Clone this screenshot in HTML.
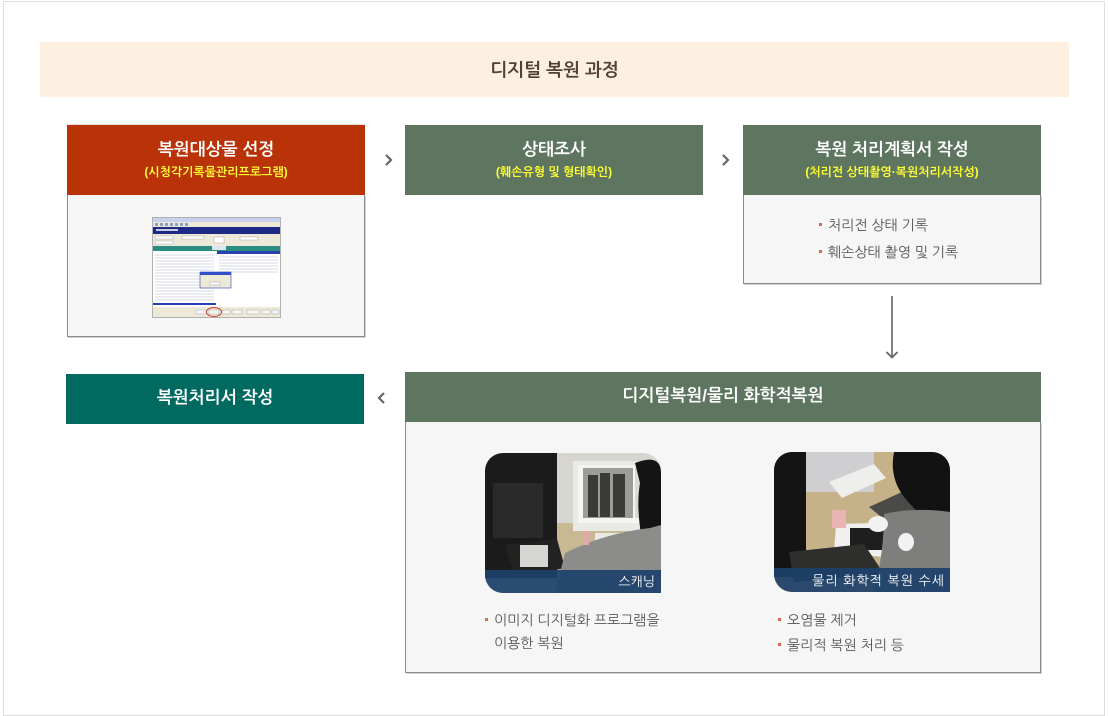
<!DOCTYPE html>
<html><head><meta charset="utf-8">
<style>
*{margin:0;padding:0;box-sizing:border-box}
html,body{width:1108px;height:716px;background:#fff;overflow:hidden}
body{position:relative;font-family:"Liberation Sans","NanumGothic","Noto Sans CJK KR",sans-serif}
.abs{position:absolute}
.outer{left:3px;top:1px;width:1102px;height:715px;border:1px solid #dedede}
.band{left:40px;top:42px;width:1029px;height:55px;background:#fef0e1}
.band span{position:absolute;left:0;right:0;top:17px;text-align:center;font-size:18px;font-weight:bold;color:#4f4232;line-height:22px}
.hd{color:#fff;text-align:center}
.hd .t{position:absolute;left:0;right:0;top:14px;font-size:17px;line-height:22px;font-weight:bold}
.hd .s{position:absolute;left:0;right:0;top:39px;font-size:12px;line-height:16px;font-weight:bold;color:#ffff33}
.red{background:#b93208}
.grn{background:#5e7660}
.teal{background:#006a61}
.body{background:#f6f6f6;border:1px solid #8c8c8c;border-top:none;box-shadow:1px 1px 0 #d0d0d0}
.li{position:absolute;font-size:14px;color:#555;line-height:18px;white-space:nowrap}
.li i{position:absolute;left:-9px;top:7px;width:3px;height:3px;background:#d9694e}
.cap{position:absolute;color:#fff;font-size:13px;line-height:16px;white-space:nowrap}
</style></head><body>
<div class="abs outer"></div>
<div class="abs band"><span>디지털 복원 과정</span></div>

<!-- Box 1 -->
<div class="abs" style="left:67px;top:124px;width:298px;height:1px;background:#e4e4e4"></div>
<div class="abs hd red" style="left:67px;top:125px;width:298px;height:70px">
  <div class="t">복원대상물 선정</div><div class="s">(시청각기록물관리프로그램)</div>
</div>
<div class="abs body" style="left:67px;top:195px;width:298px;height:142px"></div>
<svg class="abs" style="left:152px;top:217px" width="129" height="101" viewBox="0 0 129 101">
  <rect x="0.5" y="0.5" width="128" height="100" fill="#fff" stroke="#b0b0b0"/>
  <rect x="1" y="1" width="127" height="4" fill="#c8d2ee"/>
  <rect x="1" y="5" width="127" height="5" fill="#ece9d8"/>
  <g fill="#8aa0c0"><rect x="3" y="6" width="3" height="3"/><rect x="8" y="6" width="3" height="3"/><rect x="13" y="6" width="3" height="3"/><rect x="18" y="6" width="3" height="3"/><rect x="23" y="6" width="3" height="3"/><rect x="28" y="6" width="3" height="3"/><rect x="33" y="6" width="3" height="3"/></g>
  <rect x="1" y="10" width="127" height="7" fill="#1c2a86"/>
  <rect x="4" y="12" width="22" height="2" fill="#c8cce8"/>
  <rect x="1" y="17" width="127" height="12" fill="#ece9d8"/>
  <g fill="#fff" stroke="#999" stroke-width="0.4"><rect x="3" y="19" width="18" height="3"/><rect x="3" y="24" width="18" height="3"/><rect x="30" y="19" width="22" height="3"/><rect x="62" y="20" width="10" height="6"/><rect x="88" y="20" width="18" height="3"/></g>
  <rect x="1" y="29" width="127" height="5" fill="#2a8d80"/>
  <rect x="60" y="29" width="14" height="4" fill="#dfe6f2"/>
  <rect x="1" y="34" width="63" height="56" fill="#fff"/>
  <rect x="65" y="34" width="63" height="3" fill="#2a3fb0"/>
  <g stroke="#aeb4c8" stroke-width="0.6">
    <line x1="3" y1="38" x2="62" y2="38"/><line x1="3" y1="41" x2="62" y2="41"/><line x1="3" y1="44" x2="62" y2="44"/><line x1="3" y1="47" x2="62" y2="47"/><line x1="3" y1="50" x2="62" y2="50"/><line x1="3" y1="53" x2="62" y2="53"/><line x1="3" y1="56" x2="62" y2="56"/><line x1="3" y1="59" x2="62" y2="59"/><line x1="3" y1="62" x2="62" y2="62"/><line x1="3" y1="65" x2="62" y2="65"/><line x1="3" y1="68" x2="62" y2="68"/><line x1="3" y1="71" x2="62" y2="71"/><line x1="3" y1="74" x2="62" y2="74"/><line x1="3" y1="77" x2="62" y2="77"/><line x1="3" y1="80" x2="62" y2="80"/><line x1="3" y1="83" x2="62" y2="83"/>
    <line x1="67" y1="40" x2="126" y2="40"/><line x1="67" y1="43" x2="126" y2="43"/><line x1="67" y1="46" x2="126" y2="46"/><line x1="67" y1="49" x2="126" y2="49"/><line x1="67" y1="52" x2="126" y2="52"/><line x1="67" y1="55" x2="126" y2="55"/>
  </g>
  <rect x="1" y="86" width="63" height="2" fill="#2a3fb0"/>
  <rect x="48" y="55" width="31" height="16" fill="#ece9d8" stroke="#2a3fb0" stroke-width="0.6"/>
  <rect x="48" y="55" width="31" height="3" fill="#3050c8"/>
  <rect x="58" y="65" width="10" height="3" fill="#fff" stroke="#888" stroke-width="0.4"/>
  <rect x="1" y="90" width="127" height="10" fill="#ece9d8"/>
  <g fill="#f6f6f6" stroke="#999" stroke-width="0.4"><rect x="44" y="93" width="10" height="4"/><rect x="57" y="93" width="10" height="4"/><rect x="70" y="93" width="8" height="4"/><rect x="80" y="93" width="10" height="4"/><rect x="95" y="93" width="12" height="4"/><rect x="110" y="93" width="8" height="4"/><rect x="120" y="93" width="7" height="4"/></g>
  <ellipse cx="62" cy="95" rx="7.5" ry="4.5" fill="none" stroke="#cc3322" stroke-width="0.9"/>
</svg>

<!-- arrow > 1 -->
<svg class="abs" style="left:383px;top:153px" width="12" height="14"><polyline points="3,2 8,7 3,12" fill="none" stroke="#666" stroke-width="2.2"/></svg>

<!-- Box 2 -->
<div class="abs hd grn" style="left:405px;top:125px;width:298px;height:70px">
  <div class="t">상태조사</div><div class="s">(훼손유형 및 형태확인)</div>
</div>

<!-- arrow > 2 -->
<svg class="abs" style="left:720px;top:153px" width="12" height="14"><polyline points="3,2 8,7 3,12" fill="none" stroke="#666" stroke-width="2.2"/></svg>

<!-- Box 3 -->
<div class="abs hd grn" style="left:743px;top:125px;width:298px;height:70px">
  <div class="t">복원 처리계획서 작성</div><div class="s">(처리전 상태촬영·복원처리서작성)</div>
</div>
<div class="abs body" style="left:743px;top:195px;width:298px;height:89px">
  <div class="li" style="left:84px;top:21px"><i></i>처리전 상태 기록</div>
  <div class="li" style="left:84px;top:48px"><i></i>훼손상태 촬영 및 기록</div>
</div>

<!-- down arrow -->
<svg class="abs" style="left:884px;top:295px" width="16" height="66"><line x1="8" y1="1" x2="8" y2="62" stroke="#666" stroke-width="1.6"/><polyline points="2.5,57 8,62.5 13.5,57" fill="none" stroke="#666" stroke-width="1.8"/></svg>

<!-- Box 4 -->
<div class="abs hd grn" style="left:405px;top:372px;width:636px;height:50px">
  <div class="t" style="top:13px;font-size:17px;font-weight:bold">디지털복원/물리 화학적복원</div>
</div>
<div class="abs body" style="left:405px;top:422px;width:636px;height:251px">
  <div class="li" style="left:88px;top:189px"><i></i>이미지 디지털화 프로그램을</div>
  <div class="li" style="left:88px;top:212px">이용한 복원</div>
  <div class="li" style="left:381px;top:189px"><i></i>오염물 제거</div>
  <div class="li" style="left:381px;top:214px"><i></i>물리적 복원 처리 등</div>
</div>

<!-- left image -->
<svg class="abs" style="left:485px;top:453px" width="176" height="140" viewBox="0 0 176 140">
  <defs><clipPath id="c1"><path d="M18,0 H158 A18,18 0 0 1 176,18 V140 H18 A18,18 0 0 1 0,122 V18 A18,18 0 0 1 18,0 Z"/></clipPath></defs>
  <g clip-path="url(#c1)">
    <rect width="176" height="140" fill="#d6d5d0"/>
    <rect x="70" y="70" width="106" height="50" fill="#c9b992"/>
    <rect x="88" y="8" width="90" height="70" fill="#e9e9e6"/>
    <rect x="93" y="12" width="80" height="58" fill="#f4f4f2"/>
    <rect x="98" y="15" width="50" height="50" fill="#9c9c98"/>
    <g fill="#3a3a38"><rect x="103" y="22" width="10" height="42"/><rect x="115" y="20" width="10" height="44"/><rect x="128" y="21" width="12" height="43"/></g>
    <rect x="150" y="15" width="14" height="50" fill="#d8d8d8"/>
    <rect x="0" y="0" width="72" height="125" fill="#1b1b1b"/>
    <rect x="8" y="30" width="50" height="55" fill="#2a2a2a"/>
    <polygon points="20,92 72,86 80,115 30,125" fill="#222"/>
    <rect x="35" y="92" width="28" height="22" fill="#d6d6d2"/>
    <rect x="110" y="80" width="45" height="12" fill="#e8e8e4"/>
    <path d="M150,10 Q176,0 176,20 V100 H160 Q150,60 155,30 Z" fill="#141414"/>
    <path d="M80,100 Q120,80 165,75 L176,72 V140 H70 Z" fill="#8c8c8a"/>
    <rect x="98" y="78" width="6" height="14" fill="#e2a9a8"/>
  </g>
  <path d="M0,117 H176 V140 H18 A18,18 0 0 1 0,122 Z" fill="#1c406a" opacity="0.92"/>
  <text x="170" y="133" text-anchor="end" font-family="Liberation Sans,NanumGothic,Noto Sans CJK KR,sans-serif" font-size="13" fill="#fff">스캐닝</text>
</svg>

<!-- right image -->
<svg class="abs" style="left:774px;top:452px" width="176" height="140" viewBox="0 0 176 140">
  <defs><clipPath id="c2"><path d="M18,0 H158 A18,18 0 0 1 176,18 V140 H18 A18,18 0 0 1 0,122 V18 A18,18 0 0 1 18,0 Z"/></clipPath></defs>
  <g clip-path="url(#c2)">
    <rect width="176" height="140" fill="#c7b188"/>
    <rect x="20" y="0" width="80" height="40" fill="#cfcfd2"/>
    <polygon points="55,30 100,12 112,26 68,46" fill="#eeeeec"/>
    <polygon points="95,55 150,30 170,60 120,75" fill="#4a4a48"/>
    <rect x="0" y="0" width="32" height="125" fill="#141414"/>
    <polygon points="62,72 140,70 140,108 60,100" fill="#f0f0ee"/>
    <rect x="76" y="76" width="48" height="22" fill="#1e1e1e"/>
    <rect x="58" y="58" width="14" height="18" fill="#e8b4b4"/>
    <polygon points="15,100 90,92 110,122 20,130" fill="#2e2e2c"/>
    <path d="M120,0 H176 V80 Q150,70 130,45 Q115,25 120,0 Z" fill="#121212"/>
    <path d="M110,62 Q140,55 176,60 V140 H100 Q110,100 110,62 Z" fill="#7e7e7c"/>
    <ellipse cx="104" cy="72" rx="10" ry="8" fill="#f2f2f2"/>
    <ellipse cx="132" cy="90" rx="8" ry="9" fill="#f2f2f2"/>
  </g>
  <path d="M0,116 H176 V140 H18 A18,18 0 0 1 0,122 Z" fill="#1c406a" opacity="0.92"/>
  <text x="171" y="133" text-anchor="end" font-family="Liberation Sans,NanumGothic,Noto Sans CJK KR,sans-serif" font-size="13" fill="#fff" letter-spacing="1">물리 화학적 복원 수세</text>
</svg>

<!-- arrow < -->
<svg class="abs" style="left:376px;top:391px" width="12" height="14"><polyline points="8,2 3,7 8,12" fill="none" stroke="#666" stroke-width="2.2"/></svg>

<!-- Box 5 -->
<div class="abs hd teal" style="left:66px;top:374px;width:298px;height:50px">
  <div class="t" style="top:13px">복원처리서 작성</div>
</div>
</body></html>
